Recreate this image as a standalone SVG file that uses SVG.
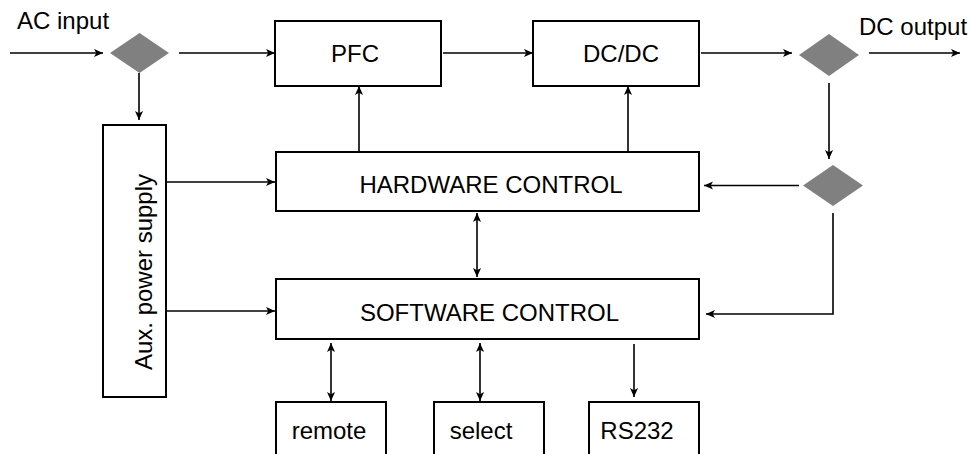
<svg xmlns="http://www.w3.org/2000/svg" width="968" height="454" viewBox="0 0 968 454">
<style>
.box{fill:#fff;stroke:#000;stroke-width:2}
.dia{fill:#808080;stroke:none}
.t{font-family:"Liberation Sans",Arial,sans-serif;font-size:24px;fill:#000}
.c{stroke:#000;stroke-width:1.6;fill:none}
</style>
<defs>
<marker id="ah" viewBox="0 0 10 10" refX="10" refY="5" markerWidth="9" markerHeight="9" markerUnits="userSpaceOnUse" orient="auto-start-reverse">
<path d="M0,0.5 L10,5 L0,9.5 L2.5,5 z" fill="#000"/>
</marker>
</defs>
<rect width="968" height="454" fill="#fff"/>
<g id="connectors">
<line class="c" x1="10" y1="53" x2="103" y2="53" marker-end="url(#ah)"/>
<line class="c" x1="179" y1="53" x2="275" y2="53" marker-end="url(#ah)"/>
<line class="c" x1="139" y1="73" x2="139" y2="120" marker-end="url(#ah)"/>
<line class="c" x1="443" y1="53" x2="533" y2="53" marker-end="url(#ah)"/>
<line class="c" x1="701" y1="53" x2="792" y2="53" marker-end="url(#ah)"/>
<line class="c" x1="869" y1="53" x2="960" y2="53" marker-end="url(#ah)"/>
<line class="c" x1="829" y1="83" x2="829" y2="159" marker-end="url(#ah)"/>
<line class="c" x1="799" y1="185.5" x2="704" y2="185.5" marker-end="url(#ah)"/>
<polyline class="c" points="833,213 833,314 706,314" marker-end="url(#ah)"/>
<line class="c" x1="359" y1="152" x2="359" y2="86" marker-end="url(#ah)"/>
<line class="c" x1="628" y1="152" x2="628" y2="86" marker-end="url(#ah)"/>
<line class="c" x1="167" y1="182" x2="275" y2="182" marker-end="url(#ah)"/>
<line class="c" x1="167" y1="311" x2="275" y2="311" marker-end="url(#ah)"/>
<line class="c" x1="477" y1="213" x2="477" y2="277" marker-start="url(#ah)" marker-end="url(#ah)"/>
<line class="c" x1="331" y1="343" x2="331" y2="401" marker-start="url(#ah)" marker-end="url(#ah)"/>
<line class="c" x1="480" y1="343" x2="480" y2="401" marker-start="url(#ah)" marker-end="url(#ah)"/>
<line class="c" x1="634" y1="344" x2="634" y2="397" marker-end="url(#ah)"/>
</g>
<g id="ac-input"><text class="t" x="17" y="29">AC input</text></g>
<g id="dc-output"><text class="t" x="859" y="35">DC output</text></g>
<g id="diamond-in"><polygon class="dia" points="110,53 139.5,33 169,53 139.5,73"/></g>
<g id="diamond-out"><polygon class="dia" points="799,55 829,34 859,55 829,76"/></g>
<g id="diamond-fb"><polygon class="dia" points="803,185.5 833,165 863,185.5 833,206"/></g>
<g id="pfc"><rect class="box" x="275" y="21" width="166" height="65"/><text class="t" x="355" y="62" text-anchor="middle">PFC</text></g>
<g id="dcdc"><rect class="box" x="533" y="21" width="166" height="65"/><text class="t" x="621" y="62" text-anchor="middle">DC/DC</text></g>
<g id="aux"><rect class="box" x="103" y="125" width="63" height="272"/><text class="t" transform="translate(152,272) rotate(-90)" text-anchor="middle">Aux. power supply</text></g>
<g id="hw"><rect class="box" x="276" y="152" width="423" height="59"/><text class="t" x="491" y="193" text-anchor="middle">HARDWARE CONTROL</text></g>
<g id="sw"><rect class="box" x="276" y="279" width="423" height="60"/><text class="t" x="489.5" y="321" text-anchor="middle">SOFTWARE CONTROL</text></g>
<g id="remote"><rect class="box" x="276" y="402" width="110" height="60"/><text class="t" x="329" y="439" text-anchor="middle">remote</text></g>
<g id="select"><rect class="box" x="434" y="402" width="110" height="60"/><text class="t" x="481" y="439" text-anchor="middle">select</text></g>
<g id="rs232"><rect class="box" x="589" y="402" width="110" height="60"/><text class="t" x="637" y="439" text-anchor="middle">RS232</text></g>
</svg>
